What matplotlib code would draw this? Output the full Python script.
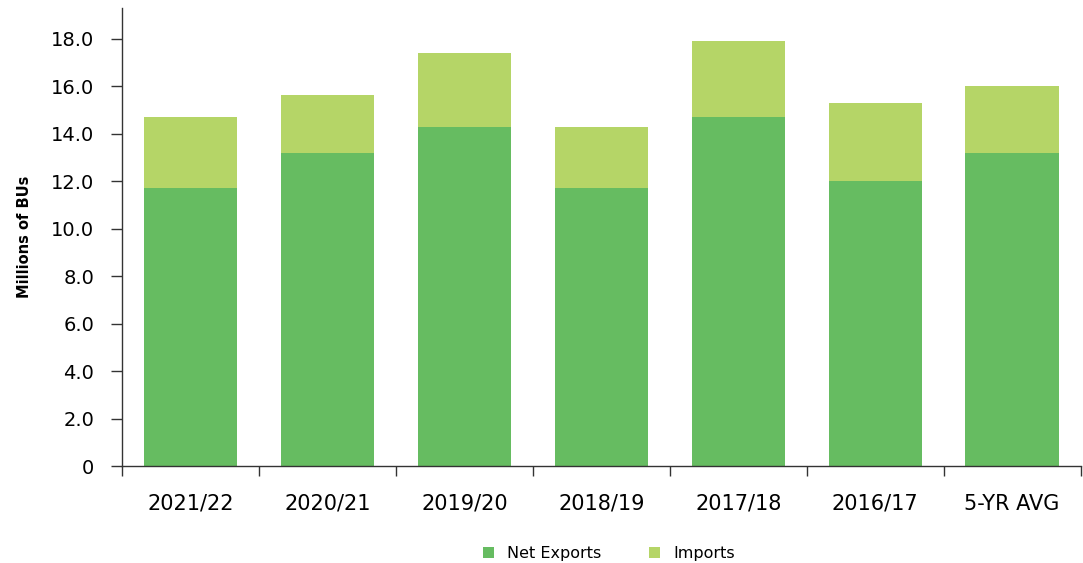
import matplotlib
matplotlib.use("Agg")
import matplotlib.pyplot as plt
import numpy as np

plt.rcParams['font.family'] = ['DejaVu Sans']

years = ['2021/22', '2020/21', '2019/20', '2018/19', '2017/18', '2016/17', '5-YR AVG']
net_exports = [11.7, 13.2, 14.3, 11.7, 14.7, 12.0, 13.2]
imports = [3.0, 2.45, 3.1, 2.6, 3.2, 3.3, 2.8]

c_net = '#66bc61'
c_imp = '#b5d567'

fig = plt.figure(figsize=(10.83, 5.63), dpi=100)
ax = fig.add_axes([0.1127, 0.172, 0.885, 0.814])

x = np.arange(len(years))
ax.bar(x, net_exports, width=0.68, color=c_net, label='Net Exports')
ax.bar(x, imports, width=0.68, bottom=net_exports, color=c_imp, label='Imports')

ax.set_xlim(-0.5, len(years) - 0.5)
ax.set_ylim(0, 19.3)
ax.set_yticks(np.arange(0, 19, 2))
ax.set_yticklabels(['0'] + ['%.1f' % v for v in np.arange(2, 19, 2)])
ax.set_xticks(x)
ax.set_xticklabels(years)
ax.set_xticks(np.arange(-0.5, len(years), 1), minor=True)
ax.tick_params(axis='x', which='major', length=0, pad=20, labelsize=15)
ax.tick_params(axis='x', which='minor', length=7, width=1, color='#333333')
ax.tick_params(axis='y', length=8, width=1, color='#333333', labelsize=14, pad=12)

for s in ['top', 'right']:
    ax.spines[s].set_visible(False)
for s in ['left', 'bottom']:
    ax.spines[s].set_color('#333333')
    ax.spines[s].set_linewidth(1)

ax.set_ylabel('Millions of BUs', fontsize=10.5, fontweight='bold', labelpad=14)

fig.legend(loc='lower center', bbox_to_anchor=(0.562, -0.022), ncol=2, frameon=False,
           fontsize=11.5, handlelength=0.7, handleheight=0.7, columnspacing=3)

fig.savefig('out.png', dpi=100)
